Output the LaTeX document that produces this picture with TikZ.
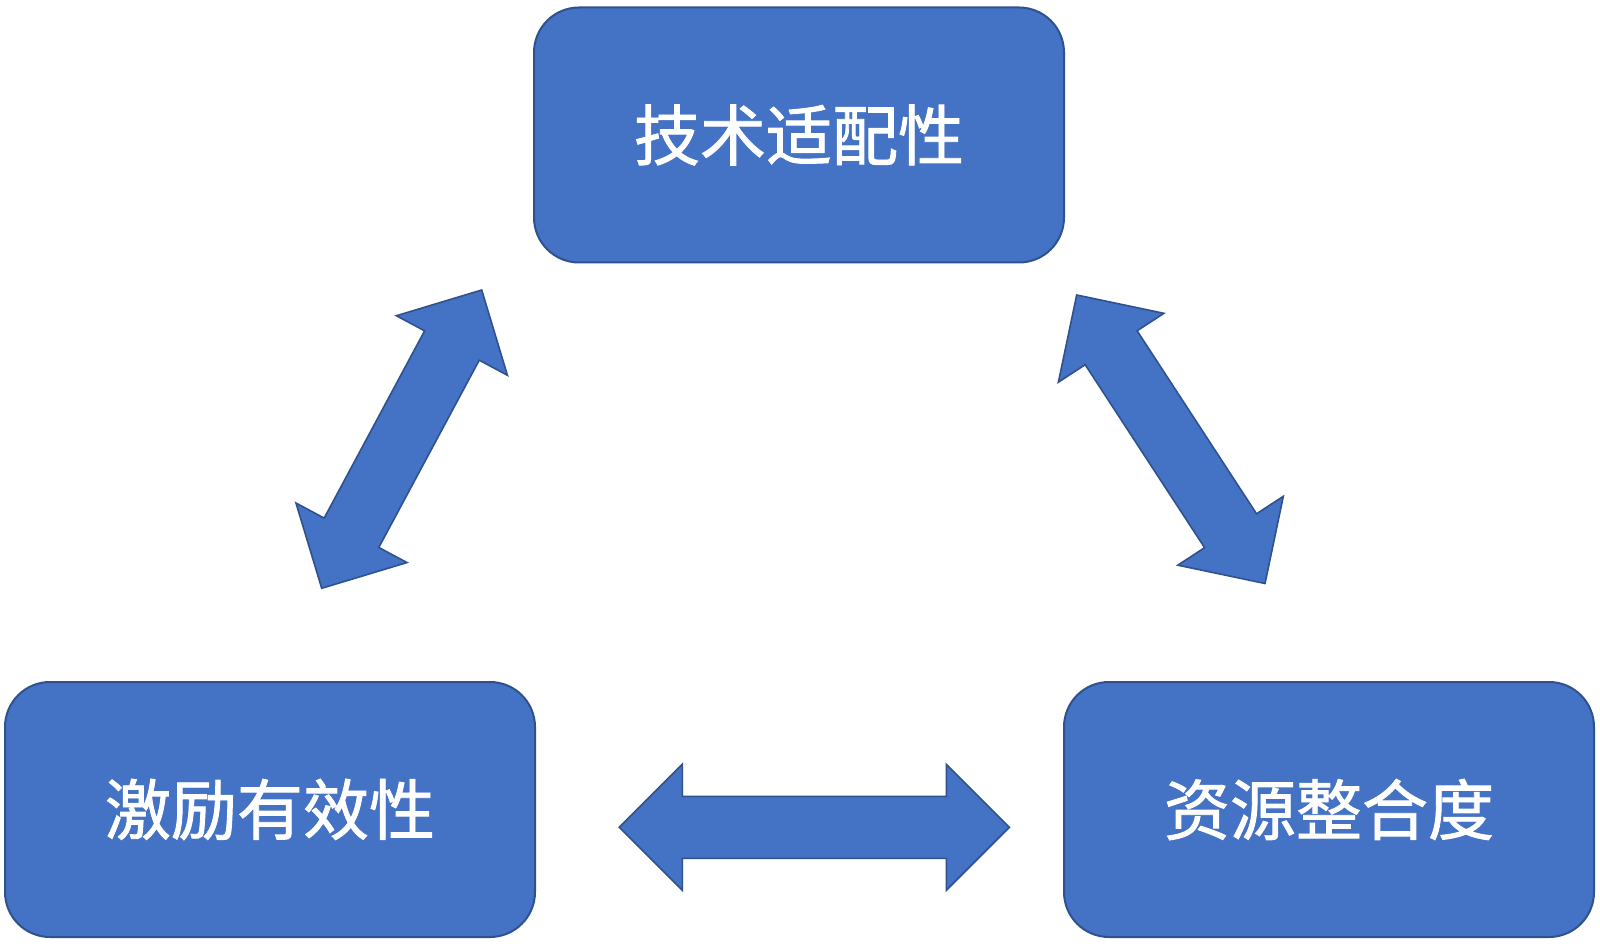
\documentclass[tikz,border=0pt]{standalone}
\usepackage{fontspec}
\newfontfamily\cjk[FakeBold=1.3]{Noto Sans CJK SC}
\usetikzlibrary{calc}
\definecolor{boxblue}{HTML}{4472C4}
\definecolor{boxline}{HTML}{2F528F}
\tikzset{
  factor/.style={draw=boxline, line width=1pt, fill=boxblue, rectangle,
    rounded corners=22.5pt, minimum width=265pt, minimum height=127.5pt,
    text=white, font=\cjk\fontsize{33pt}{40pt}\selectfont, inner sep=0pt},
  blockarrow/.style={draw=boxline, line width=0.8pt, fill=boxblue, line join=miter}
}
\newcommand{\dblarrow}[2]{%
  \coordinate (h1) at ($(#1)!31.5pt!(#2)$);
  \coordinate (h2) at ($(#2)!31.5pt!(#1)$);
  \draw[blockarrow] (#1) -- ($(h1)!31.5pt!90:(#2)$) -- ($(h1)!15.5pt!90:(#2)$)
    -- ($(h2)!15.5pt!-90:(#1)$) -- ($(h2)!31.5pt!-90:(#1)$) -- (#2)
    -- ($(h2)!31.5pt!90:(#1)$) -- ($(h2)!15.5pt!90:(#1)$)
    -- ($(h1)!15.5pt!-90:(#2)$) -- ($(h1)!31.5pt!-90:(#2)$) -- cycle;}
\begin{document}
\begin{tikzpicture}[x=0.5pt, y=-0.5pt]
  \useasboundingbox[fill=white] (0,0) rectangle (1600,946);
  \node[factor] (tech) at (799,135) {技术适配性};
  \node[factor] (incent) at (270,809.5) {激励有效性};
  \node[factor] (resource) at (1329,809.5) {资源整合度};
  % arrow end points
  \coordinate (lt) at (481.7,290);
  \coordinate (lb) at (321.7,588.3);
  \coordinate (rt) at (1076.7,295);
  \coordinate (rb) at (1265,583.5);
  \coordinate (hl) at (619.3,827.3);
  \coordinate (hr) at (1009.3,827.3);
  \dblarrow{lb}{lt}
  \dblarrow{rt}{rb}
  \dblarrow{hl}{hr}
\end{tikzpicture}
\end{document}
